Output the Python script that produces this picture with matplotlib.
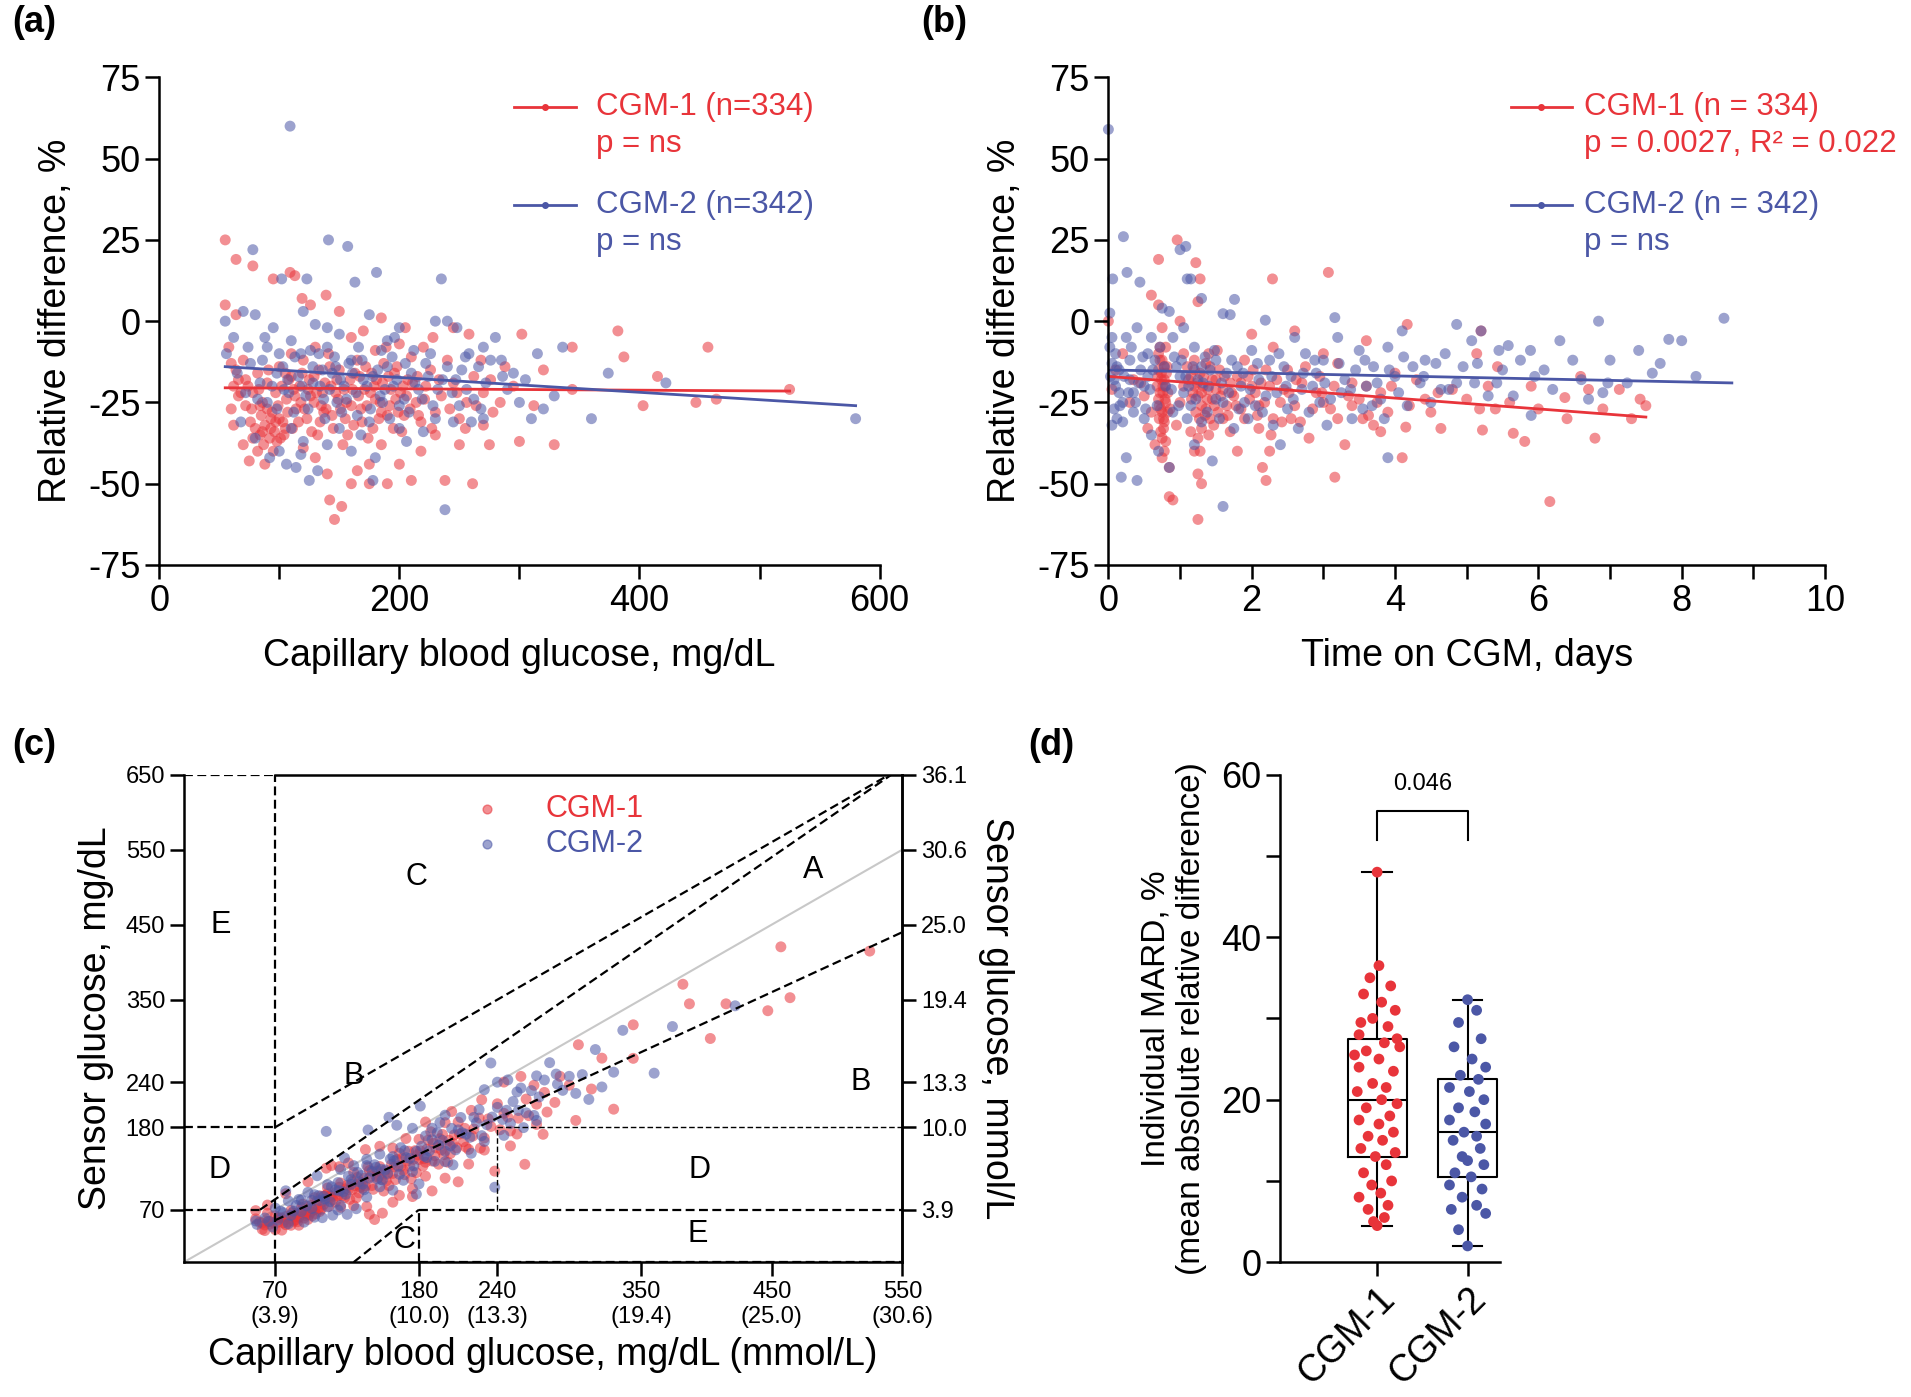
import numpy as np
import matplotlib
matplotlib.use('Agg')
import matplotlib.pyplot as plt

plt.rcParams['font.family'] = ['Liberation Sans', 'DejaVu Sans']
plt.rcParams['axes.unicode_minus'] = False

RED = '#e8343a'
BLUE = '#4b57a6'

# (a) capillary glucose (mg/dL), relative difference (%)
a_cgm1 = [
    (55, 25), (64, 19), (78, 17), (55, 5), (64, 2), (95, 13), (109, 15), (113, 14), (119, 7), (139, 8),
    (126, 5), (150, 3), (170, -3), (185, 1), (205, -2), (228, -5), (245, -2), (258, -4),
    (58, -8), (60, -13), (66, -18), (70, -12), (74, -20), (78, -22), (82, -16), (86, -25), (90, -19),
    (94, -28), (97, -22), (100, -14), (103, -31), (106, -24), (108, -18), (111, -33), (114, -27),
    (117, -20), (120, -12), (123, -30), (126, -23), (129, -17), (132, -35), (135, -26), (138, -19),
    (141, -10), (144, -29), (147, -22), (150, -15), (153, -38), (156, -25), (159, -18), (162, -32),
    (165, -12), (168, -27), (171, -21), (174, -36), (177, -16), (180, -24), (183, -30), (186, -19),
    (189, -8), (192, -26), (195, -33), (198, -14), (201, -22), (204, -29), (207, -18), (210, -11),
    (214, -25), (218, -31), (222, -20), (226, -15), (230, -28), (235, -23), (240, -12), (245, -19),
    (250, -30), (256, -25), (262, -17), (270, -22), (278, -28), (288, -14), (295, -20),
    (80, -33), (84, -35), (88, -32), (92, -36), (96, -34), (100, -30), (85, -29), (90, -27), (76, -31), (98, -37),
    (60, -27), (62, -32), (70, -38), (75, -43), (88, -44), (95, -40), (120, -39), (130, -42), (140, -47),
    (142, -55), (146, -61), (152, -57), (160, -50), (175, -50), (190, -50), (210, -49), (238, -49),
    (200, -44), (175, -44), (218, -40), (250, -38), (165, -46), (185, -38), (230, -35),
    (302, -4), (344, -8), (382, -3), (387, -11), (457, -8), (415, -17), (403, -26), (447, -25), (464, -24),
    (329, -38), (344, -21), (312, -26), (275, -38), (261, -50), (525, -21), (320, -15), (270, -32), (300, -37),
    (105, -16), (112, -21), (118, -25), (125, -18), (131, -22), (137, -28), (143, -20), (149, -24),
    (155, -30), (161, -21), (167, -17), (173, -26), (179, -20), (185, -28), (191, -17), (197, -24),
    (203, -20), (209, -27), (215, -17), (110, -10), (130, -8), (160, -5), (180, -9), (200, -7), (220, -8),
    (72, -26), (68, -22), (64, -15),
    (72, -18), (77, -27), (83, -21), (87, -38), (91, -15), (93, -30), (99, -26), (102, -20), (104, -35),
    (107, -28), (110, -17), (113, -23), (116, -31), (119, -16), (121, -27), (124, -21), (127, -34),
    (129, -25), (133, -15), (134, -31), (136, -22), (139, -27), (142, -14), (145, -33), (148, -18),
    (151, -27), (154, -21), (157, -35), (160, -26), (163, -16), (166, -23), (169, -31), (172, -14),
    (176, -22), (178, -33), (181, -18), (184, -25), (187, -13), (190, -29), (193, -21), (196, -16),
    (199, -28), (202, -34), (206, -23), (211, -19), (216, -29), (221, -24), (227, -33), (233, -18),
    (242, -27), (248, -22), (255, -33), (264, -26), (268, -12), (276, -18), (284, -25), (82, -40),
    (86, -34), (93, -33), (97, -31), (101, -36), (105, -33), (78, -36), (84, -26), (66, -23), (62, -20),
]
a_cgm2 = [
    (109, 60), (141, 25), (157, 23), (78, 22), (181, 15), (235, 13), (163, 12), (123, 13), (102, 13),
    (55, 0), (62, -5), (70, 3), (80, 2), (88, -5), (95, -2), (110, -6), (118, -10), (130, -1), (140, -8),
    (150, -4), (160, -12), (175, 2), (190, -6), (200, -2), (212, -9), (230, 0), (240, 0), (248, -2),
    (258, -10), (270, -8), (285, -12), (295, -16),
    (56, -10), (65, -16), (72, -22), (76, -13), (84, -19), (90, -25), (98, -16), (104, -21), (112, -28),
    (116, -17), (122, -23), (128, -14), (134, -20), (138, -30), (144, -16), (148, -25), (154, -20),
    (158, -13), (164, -22), (170, -18), (176, -27), (182, -15), (188, -21), (194, -11), (198, -18),
    (204, -24), (210, -16), (216, -21), (222, -13), (228, -26), (236, -18), (244, -22), (252, -15),
    (262, -24), (272, -19), (290, -21), (300, -25), (310, -30), (320, -27),
    (68, -31), (80, -36), (92, -42), (100, -40), (106, -44), (114, -45), (120, -37), (125, -49),
    (132, -46), (150, -33), (168, -35), (180, -42), (192, -30), (206, -37), (220, -34), (238, -58),
    (245, -31), (178, -49),
    (336, -8), (374, -16), (422, -19), (360, -30), (329, -23), (580, -30),
    (100, -10), (108, -22), (126, -9), (136, -15), (146, -11), (152, -28), (166, -8), (186, -25),
    (196, -5), (208, -28), (226, -10), (250, -26), (266, -14), (280, -5),
    (74, -8), (82, -24), (86, -12), (94, -20), (98, -27), (103, -14), (107, -18), (113, -11), (119, -20),
    (124, -27), (128, -19), (133, -10), (137, -24), (142, -21), (147, -14), (151, -18), (156, -24),
    (161, -16), (165, -29), (169, -12), (173, -20), (178, -17), (184, -23), (190, -14), (195, -20),
    (200, -26), (205, -13), (213, -19), (219, -24), (224, -17), (232, -21), (240, -14), (247, -18),
    (256, -21), (268, -27), (276, -12), (286, -17), (305, -18), (315, -10), (110, -33), (118, -41),
    (140, -38), (160, -40), (175, -31), (200, -33), (230, -30), (260, -31), (270, -30), (255, -11),
    (185, -9), (140, -2), (120, 3), (90, -8),
]
# regression lines
fit_a_cgm1 = ([55, 525], [-20.5, -21.5])
fit_a_cgm2 = ([55, 580], [-14, -26])

# (b) time on CGM (days), relative difference (%)
b_cgm1 = [
    (0, 0), (0.1, -15), (0.05, -21), (0.3, -25), (0.45, -19), (0.6, -28), (0.65, -38), (0.7, 19), (0.6, 8),
    (0.7, 5), (0.75, -2), (0.72, -8), (0.75, -12), (0.7, -15), (0.78, -18), (0.72, -22), (0.8, -25),
    (0.75, -28), (0.78, -31), (0.73, -34), (0.8, -37), (0.75, -42), (0.85, -45), (0.9, -55), (0.85, -54),
    (0.96, 25), (1.22, 18), (1.28, 13), (1.25, 6), (1.0, 0), (1.05, -10), (1.1, -14), (1.15, -17),
    (1.2, -20), (1.25, -23), (1.3, -26), (1.35, -29), (1.3, -33), (1.25, -36), (1.2, -40), (1.25, -47),
    (1.3, -50), (1.25, -61), (1.4, -10), (1.45, -18), (1.5, -21), (1.55, -15), (1.6, -30), (1.7, -19),
    (1.75, -23), (1.8, -40), (1.85, -27), (1.9, -12), (1.95, -17), (2.0, -4), (2.05, -22), (2.1, -33),
    (2.15, -45), (2.2, -49), (2.25, -20), (2.29, 13), (2.3, -8), (2.4, -25), (2.5, -15), (2.55, -30),
    (2.6, -3), (2.7, -19), (2.8, -36), (2.9, -22), (3.0, -10), (3.07, 15), (3.1, -27), (3.2, -13),
    (3.3, -38), (3.4, -19), (3.5, -24), (3.6, -6), (3.7, -32), (3.8, -22), (3.9, -28), (4.0, -16), (4.1, -42),
    (5.2, -3), (4.17, -1), (5.14, -10), (5.43, -14), (6.59, -17), (7.13, -21), (7.42, -24), (6.37, -23.5),
    (5.4, -27), (5.18, -27), (4.64, -33), (5.22, -33.5), (5.65, -34.5), (5.81, -37), (6.79, -36),
    (6.16, -55.5), (4.42, -24), (4.15, -32.6), (3.63, -29), (3.16, -48), (2.98, -22),
    (0.7, -10), (0.74, -16), (0.76, -20), (0.79, -24), (0.71, -26), (0.77, -30), (0.82, -14), (0.68, -20),
    (0.8, -8), (0.83, -28), (1.2, -12), (1.28, -16), (1.32, -20), (1.38, -24), (1.22, -28), (1.42, -30),
    (1.48, -26), (1.36, -13), (1.18, -22), (1.4, -35), (1.52, -9), (1.6, -21), (1.65, -26), (1.7, -34),
    (1.8, -17), (2.0, -20), (2.1, -26), (2.2, -15), (2.3, -30), (2.45, -21), (2.6, -26), (2.75, -14),
    (3.0, -25), (3.2, -30), (3.4, -26), (3.6, -20), (3.8, -34), (4.3, -18), (4.5, -28), (4.8, -21),
    (5.0, -24), (5.6, -25), (5.9, -20), (6.4, -30), (6.9, -27), (7.3, -30), (7.5, -26), (1.0, -25),
    (0.95, -32), (1.05, -20), (0.2, -10), (0.35, -18), (0.5, -23), (0.55, -33),
    (0.72, -12), (0.74, -18), (0.76, -22), (0.78, -14), (0.7, -24), (0.73, -27), (0.77, -33), (0.79, -20),
    (0.81, -16), (0.75, -36), (0.71, -30), (0.69, -17), (0.83, -22), (0.86, -27), (1.12, -18), (1.16, -24),
    (1.2, -15), (1.24, -19), (1.27, -30), (1.3, -22), (1.33, -17), (1.36, -27), (1.39, -21), (1.42, -14),
    (1.45, -24), (1.47, -32), (1.5, -18), (1.53, -28), (1.57, -23), (1.62, -17), (1.67, -29), (1.72, -22),
    (1.78, -26), (1.85, -19), (1.9, -30), (1.97, -24), (2.02, -15), (2.08, -29), (2.13, -19), (2.18, -25),
    (2.27, -35), (2.35, -18), (2.42, -31), (2.52, -22), (2.62, -18), (2.68, -31), (2.85, -27), (2.95, -17),
    (3.15, -20), (3.35, -23), (3.55, -30), (3.75, -25), (3.95, -20), (4.2, -26), (4.6, -22), (5.3, -20),
    (6.0, -27), (6.7, -21), (1.15, -34), (1.28, -40), (0.78, -40), (2.25, -40),
]
b_cgm2 = [
    (0, 59), (0.21, 26), (0.06, 13), (0.26, 15), (0.44, 12), (0.02, 2.5), (0.02, -8), (0.05, -13),
    (0.03, -17), (0.1, -20), (0.15, -22), (0.08, -27), (0.12, -30), (0.2, -31), (0.05, -32), (0.25, -42),
    (0.18, -48), (0.4, -49), (0.35, -22), (0.3, -18), (0.45, -15), (0.5, -20), (0.55, -10), (0.6, -5),
    (0.4, -2), (0.25, -5), (0.6, -35), (0.7, -40), (0.85, -45), (0.9, -28),
    (1.0, 22), (1.08, 23), (1.1, 13), (1.15, 13), (1.3, 7), (1.6, 2.3), (1.7, 2), (1.76, 6.7), (2.19, 0.3),
    (3.16, 1.1), (0.75, 4), (0.85, 3), (0.9, -5), (1.05, -2), (1.2, -8), (1.3, -14), (1.4, -20), (1.5, -12),
    (1.6, -25), (1.0, -17), (1.1, -30), (1.2, -38), (1.3, -31), (1.45, -43), (1.6, -57), (1.75, -33),
    (1.9, -25), (2.0, -9), (2.1, -18), (2.2, -23), (2.3, -32), (2.4, -38), (2.45, -14), (2.6, -5),
    (2.7, -21), (2.8, -28), (2.9, -16), (3.0, -12), (3.1, -24), (3.2, -5), (3.3, -18), (3.4, -30),
    (3.5, -9), (3.6, -20), (3.7, -14), (3.8, -24), (3.9, -8), (4.0, -17), (4.1, -3),
    (4.86, -1), (5.07, -6), (5.2, -3), (5.58, -7.5), (5.89, -9), (6.08, -15), (6.48, -12), (6.84, 0),
    (7.82, -5.6), (8.59, 0.9), (7.59, -16), (7.24, -19), (6.97, -19), (6.7, -24), (5.9, -29), (5.65, -23),
    (5.42, -19), (5.11, -19), (4.86, -19), (4.64, -21), (4.42, -12), (4.17, -26), (3.9, -42), (4.57, -13),
    (0.1, -10), (0.15, -15), (0.2, -25), (0.3, -12), (0.35, -28), (0.5, -30), (0.55, -17), (0.65, -12),
    (0.8, -20), (0.95, -14), (1.05, -22), (1.15, -26), (1.25, -18), (1.35, -11), (1.5, -24), (1.55, -30),
    (1.65, -16), (1.8, -14), (1.85, -20), (1.95, -30), (2.05, -26), (2.25, -12), (2.35, -22), (2.5, -27),
    (2.55, -17), (2.65, -33), (2.75, -10), (2.85, -20), (2.95, -25), (3.05, -32), (3.25, -22), (3.45, -15),
    (3.55, -27), (3.75, -19), (3.85, -30), (4.05, -22), (4.25, -14), (4.35, -19), (4.5, -25), (4.7, -10),
    (4.95, -14), (5.3, -23), (5.5, -15), (5.75, -12), (6.2, -21), (6.6, -18), (7.0, -12), (7.4, -9), (8.0, -6),
    (0.05, -5), (0.08, -18), (0.12, -14), (0.16, -26), (0.22, -17), (0.28, -22), (0.32, -8), (0.38, -25),
    (0.42, -19), (0.48, -11), (0.52, -27), (0.58, -21), (0.62, -15), (0.68, -26), (0.72, -8), (0.78, -14),
    (0.88, -21), (0.92, -11), (0.98, -26), (1.02, -12), (1.08, -17), (1.12, -20), (1.18, -14), (1.22, -24),
    (1.32, -19), (1.38, -28), (1.42, -15), (1.48, -9), (1.58, -19), (1.68, -22), (1.72, -12), (1.82, -27),
    (1.88, -16), (1.98, -21), (2.08, -13), (2.15, -28), (2.28, -17), (2.38, -10), (2.48, -20), (2.58, -24),
    (2.72, -16), (2.88, -12), (3.02, -19), (3.22, -13), (3.38, -21), (3.58, -12), (3.68, -26), (3.92, -15),
    (4.12, -11), (4.4, -17), (4.75, -21), (5.15, -13), (5.45, -9), (5.95, -17), (6.3, -6), (6.9, -22),
    (7.7, -13), (8.2, -17),
]
fit_b_cgm1 = ([0, 7.5], [-17, -29.5])
fit_b_cgm2 = ([0, 8.7], [-15, -19])

# (c) Clarke error grid ticks
c_ticks_mgdl = [70, 180, 240, 350, 450, 550]
c_ticks_mmol = ['3.9', '10.0', '13.3', '19.4', '25.0', '30.6']
c_yticks_mgdl = [70, 180, 240, 350, 450, 550, 650]
c_yticks_mmol = ['3.9', '10.0', '13.3', '19.4', '25.0', '30.6', '36.1']
zone_labels = [('E', 28, 449), ('C', 178, 513), ('A', 482, 523), ('B', 130, 248), ('B', 518, 240),
               ('D', 27, 123), ('D', 395, 123), ('E', 393, 38), ('C', 169, 29)]

# (d) individual MARD (%) with horizontal offsets of the dots
d_cgm1 = [48, 36.5, 35, 34, 33, 32, 31, 30, 29, 28, 27, 26.5, 26, 25, 24, 23.5, 22, 21.5, 21, 20,
          19.5, 19, 18, 17.5, 17, 16, 15.5, 15, 14, 13.5, 13, 12, 11, 10, 9.5, 8.5, 8, 7, 6.5, 5.5,
          5, 4.5, 29.5, 27.5, 25.5]
d_cgm1_off = [0, 0.02, -0.08, 0.15, -0.15, 0.05, 0.2, -0.05, 0.12, -0.2, 0.08, 0.25, -0.12, 0.02, -0.2,
              0.18, -0.05, 0.1, -0.22, 0.05, 0.22, -0.12, 0.14, -0.2, 0.02, 0.18, -0.1, 0.06, -0.18, 0.2,
              -0.02, 0.1, -0.15, 0.16, -0.06, 0.04, -0.2, 0.12, -0.1, 0.08, -0.04, 0.0, -0.18, 0.22, -0.25]
d_cgm2 = [32.3, 31, 29.5, 27.5, 26.5, 25, 24, 23, 22.5, 21.5, 21, 20, 19, 18.5, 17.5, 17, 16, 15.5, 15,
          14, 13, 12, 11, 10.5, 9.5, 9, 8, 7, 6.5, 6, 4, 2, 12.5]
d_cgm2_off = [0, 0.1, -0.1, 0.15, -0.15, 0.05, 0.2, -0.08, 0.12, -0.2, 0.02, 0.18, -0.1, 0.08, -0.2, 0.2,
              -0.04, 0.1, -0.16, 0.14, -0.06, 0.18, -0.14, 0.04, -0.2, 0.16, -0.06, 0.1, -0.18, 0.2, -0.1,
              0.0, 0.0]
d_labels = ['CGM-1', 'CGM-2']
d_pvalue = '0.046'


def style(ax, size=26):
    for s in ['top', 'right']:
        ax.spines[s].set_visible(False)
    for s in ['left', 'bottom']:
        ax.spines[s].set_linewidth(1.8)
    ax.tick_params(which='both', direction='out', length=10, width=1.8, labelsize=size)


def legend_entry(ax, y, color, lines, text_x=0.223):
    ax.plot([0.0, 0.167], [y, y], transform=ax.transAxes, color=color, lw=2, clip_on=False)
    ax.plot([0.083], [y], 'o', ms=4, transform=ax.transAxes, color=color, clip_on=False)
    for i, t in enumerate(lines):
        ax.text(text_x, y - i * 0.076, t, transform=ax.transAxes, color=color, fontsize=22.5, va='center')


fig = plt.figure(figsize=(19.11, 13.97), dpi=100)

# ---- (a)
ax = fig.add_axes([0.0833, 0.5956, 0.377, 0.349])
for pts, col in [(a_cgm1, RED), (a_cgm2, BLUE)]:
    x, y = zip(*pts)
    ax.scatter(x, y, s=62, color=col, alpha=0.55, edgecolors='none')
ax.plot(*fit_a_cgm1, color=RED, lw=2)
ax.plot(*fit_a_cgm2, color=BLUE, lw=2)
ax.set_xlim(0, 600)
ax.set_ylim(-75, 75)
ax.set_xticks([0, 200, 400, 600])
ax.set_xticks([100, 300, 500], minor=True)
ax.set_yticks([-75, -50, -25, 0, 25, 50, 75])
style(ax)
ax.set_xlabel('Capillary blood glucose, mg/dL', fontsize=27, labelpad=14)
ax.set_ylabel('Relative difference, %', fontsize=27, labelpad=10)
ax_leg = ax.inset_axes([0.493, 0, 0.51, 1])
ax_leg.axis('off')
legend_entry(ax_leg, 0.94, RED, ['CGM-1 (n=334)', 'p = ns'])
legend_entry(ax_leg, 0.739, BLUE, ['CGM-2 (n=342)', 'p = ns'])

# ---- (b)
ax = fig.add_axes([0.580, 0.5956, 0.375, 0.349])
for pts, col in [(b_cgm1, RED), (b_cgm2, BLUE)]:
    x, y = zip(*pts)
    ax.scatter(x, y, s=62, color=col, alpha=0.55, edgecolors='none', clip_on=False)
ax.plot(*fit_b_cgm1, color=RED, lw=2)
ax.plot(*fit_b_cgm2, color=BLUE, lw=2)
ax.set_xlim(0, 10)
ax.set_ylim(-75, 75)
ax.set_xticks([0, 2, 4, 6, 8, 10])
ax.set_xticks([1, 3, 5, 7, 9], minor=True)
ax.set_yticks([-75, -50, -25, 0, 25, 50, 75])
style(ax)
ax.set_xlabel('Time on CGM, days', fontsize=27, labelpad=14)
ax.set_ylabel('Relative difference, %', fontsize=27, labelpad=10)
ax_leg = ax.inset_axes([0.562, 0, 0.51, 1])
ax_leg.axis('off')
legend_entry(ax_leg, 0.94, RED, ['CGM-1 (n = 334)', 'p = 0.0027, R² = 0.022'], text_x=0.2)
legend_entry(ax_leg, 0.739, BLUE, ['CGM-2 (n = 342)', 'p = ns'], text_x=0.2)

# ---- (c) sensor glucose = capillary glucose * (1 + relative difference)
ax = fig.add_axes([0.0962, 0.0965, 0.376, 0.349])
for pts, col in [(a_cgm1, RED), (a_cgm2, BLUE)]:
    g = np.array([p[0] for p in pts], dtype=float)
    d = np.array([p[1] for p in pts], dtype=float)
    ax.scatter(g, g * (1 + d / 100), s=62, color=col, alpha=0.55, edgecolors='none', zorder=2)
ax.set_xlim(0, 550)
ax.set_ylim(0, 650)
ax.plot([0, 550], [0, 550], color='#c8c8c8', lw=1.5, zorder=1)
dash = dict(color='black', lw=1.6, ls=(0, (4, 2)), zorder=3)
ax.plot([0, 70], [180, 180], **dash)
ax.plot([70, 70], [0, 650], **dash)
ax.plot([0, 70], [650, 650], **dash)
ax.plot([70, 540], [180, 650], **dash)
ax.plot([175 / 3, 650 / 1.2], [70, 650], **dash)
ax.plot([0, 175 / 3], [70, 70], **dash)
ax.plot([70, 550], [56, 440], **dash)
ax.plot([240, 550], [180, 180], color='black', lw=1.0, ls=(0, (4, 2)), zorder=3)
ax.plot([240, 240], [70, 180], color='black', lw=1.0, ls=(0, (4, 2)), zorder=3)
ax.plot([180, 550], [70, 70], **dash)
ax.plot([180, 180], [0, 70], **dash)
ax.plot([130, 180], [0, 70], **dash)
ax.plot([180, 550], [0, 0], **dash)
ax.plot([70, 550], [650, 650], color='black', lw=1.8, zorder=3, clip_on=False)
for t, x, y in zone_labels:
    ax.text(x, y, t, fontsize=22, ha='center', va='center')
ax.spines['top'].set_visible(False)
for s in ['left', 'right', 'bottom']:
    ax.spines[s].set_linewidth(1.8)
ax.tick_params(which='both', direction='out', length=10, width=1.8, labelsize=17)
ax.set_xticks(c_ticks_mgdl)
ax.set_xticklabels([f'{a}\n({b})' for a, b in zip(c_ticks_mgdl, c_ticks_mmol)], fontsize=17)
ax.set_yticks(c_yticks_mgdl)
ax.set_xlabel('Capillary blood glucose, mg/dL (mmol/L)', fontsize=27, labelpad=6)
ax.set_ylabel('Sensor glucose, mg/dL', fontsize=27, labelpad=8)
ax2 = ax.twinx()
ax2.set_ylim(0, 650)
ax2.set_yticks(c_yticks_mgdl)
ax2.set_yticklabels(c_yticks_mmol)
ax2.tick_params(direction='out', length=10, width=1.8, labelsize=17)
for s in ['top', 'left', 'bottom']:
    ax2.spines[s].set_visible(False)
ax2.spines['right'].set_linewidth(1.8)
ax2.set_ylabel('Sensor glucose, mmol/L', fontsize=27, rotation=270, labelpad=34)
ax.scatter([0.422], [0.93], s=40, color=RED, alpha=0.55, transform=ax.transAxes)
ax.scatter([0.422], [0.858], s=40, color=BLUE, alpha=0.55, transform=ax.transAxes)
ax.text(0.503, 0.93, 'CGM-1', color=RED, fontsize=22, va='center', transform=ax.transAxes)
ax.text(0.503, 0.858, 'CGM-2', color=BLUE, fontsize=22, va='center', transform=ax.transAxes)

# ---- (d)
ax = fig.add_axes([0.670, 0.0965, 0.115, 0.349])
ax.boxplot([d_cgm1, d_cgm2], positions=[1, 2], widths=0.65, whis=(0, 100), showfliers=False,
           medianprops=dict(color='black', lw=1.5), boxprops=dict(lw=1.5),
           whiskerprops=dict(lw=1.5), capprops=dict(lw=1.5), zorder=1)
ax.scatter(1 + np.array(d_cgm1_off), d_cgm1, s=60, color=RED, zorder=3, edgecolors='none')
ax.scatter(2 + np.array(d_cgm2_off), d_cgm2, s=60, color=BLUE, zorder=3, edgecolors='none')
ax.plot([1, 1, 2, 2], [52, 55.5, 55.5, 52], color='black', lw=1.5)
ax.text(1.5, 57.5, d_pvalue, ha='center', va='bottom', fontsize=17)
ax.set_xlim(-0.07, 2.36)
ax.set_ylim(0, 60)
ax.set_yticks([0, 20, 40, 60])
ax.set_yticks([10, 30, 50], minor=True)
ax.set_xticks([1, 2])
style(ax)
ax.set_xticklabels(d_labels, rotation=45, ha='right', rotation_mode='anchor', fontsize=27)
ax.set_ylabel('Individual MARD, %\n(mean absolute relative difference)', fontsize=24, labelpad=10)

for t, x, y in [('(a)', 0.0064, 0.984), ('(b)', 0.482, 0.984), ('(c)', 0.0064, 0.4667), ('(d)', 0.538, 0.4667)]:
    fig.text(x, y, t, fontsize=26, fontweight='bold', va='center')

fig.savefig('out.png', dpi=100)
